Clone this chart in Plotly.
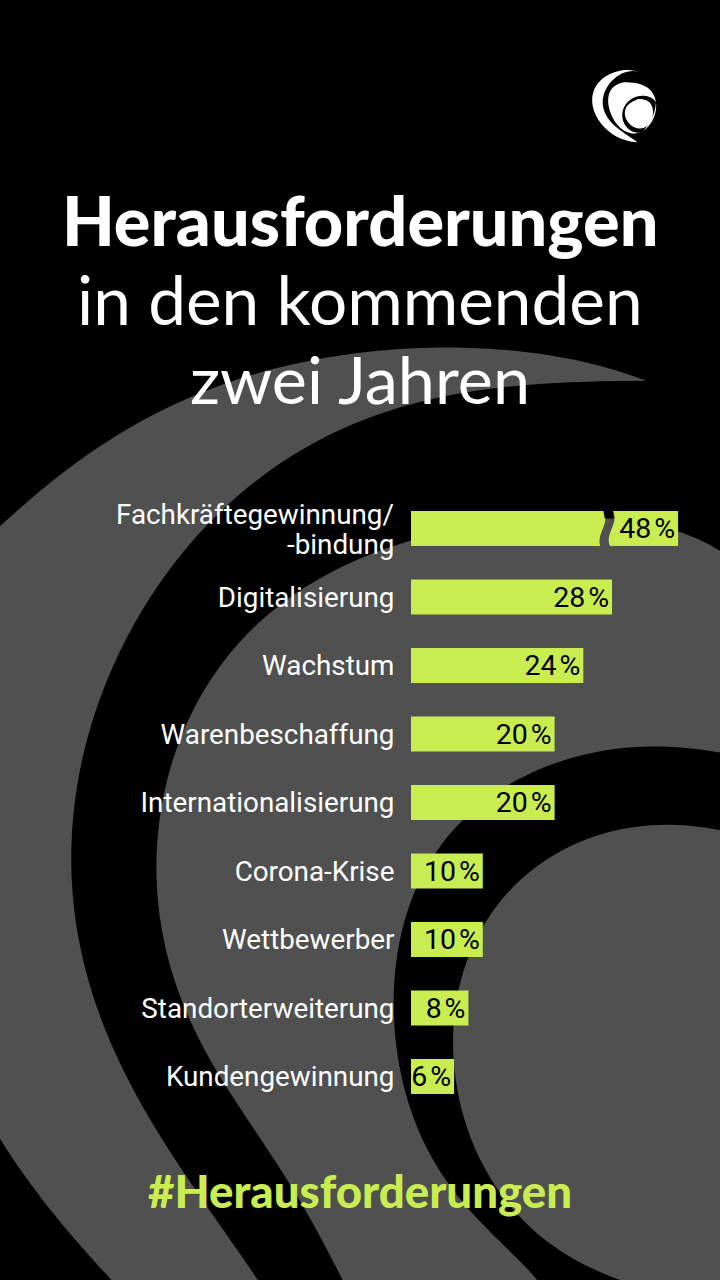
import numpy as np
import plotly.graph_objects as go

# ---- data -------------------------------------------------------------
categories = ["Fachkräftegewinnung/<br>-bindung", "Digitalisierung", "Wachstum", "Warenbeschaffung",
              "Internationalisierung", "Corona-Krise", "Wettbewerber", "Standorterweiterung", "Kundengewinnung"]
values = [48, 28, 24, 20, 20, 10, 10, 8, 6]
axis_break = 37.2  # the longest bar is cut by a break mark at this axis value
title_lines = ["Herausforderungen", "in den kommenden", "zwei Jahren"]
hashtag = "#Herausforderungen"

# ---- style ------------------------------------------------------------
W, H = 720, 1280
BLACK, GREY, LIME, WHITE = "#000000", "#505050", "#C9EC50", "#FFFFFF"
LABEL_FONT = "Roboto"
TITLE_FONT = "Lato"


def smooth(points, deg=6, n=90):
    """Least-squares smooth curve through hand-read outline points of the backdrop."""
    p = np.array(points, float)
    t = np.r_[0, np.cumsum(np.hypot(*np.diff(p, axis=0).T))]
    t = t / t[-1]
    d = min(deg, len(p) - 1)
    tt = np.linspace(0, 1, n)
    return list(zip(np.polyval(np.polyfit(t, p[:, 0], d), tt), np.polyval(np.polyfit(t, p[:, 1], d), tt)))


def to_path(points):
    return "M" + " L".join(f"{x / W:.5f},{1 - y / H:.5f}" for x, y in points) + " Z"


def poly(points, color, layer="below"):
    return dict(type="path", xref="paper", yref="paper", path=to_path(points), fillcolor=color,
                line=dict(width=0), layer=layer)


shapes = []
# outer grey crescent
outer_top = smooth([(-40, 565), (0, 525), (92, 453), (184, 400), (275, 367), (367, 353), (459, 348), (551, 355), (646, 381)], 5)
outer_inner = smooth([(646, 381), (551, 382), (459, 395), (367, 420), (275, 463), (177, 560), (110, 680), (70, 840),
                      (94, 1000), (170, 1150), (257, 1280), (290, 1330)], 7)
outer_low = smooth([(-30, 1085), (0, 1138), (46, 1205), (112, 1280), (160, 1330)], 3)
shapes.append(poly(outer_top + outer_inner + outer_low[::-1], GREY))
# middle grey disc
mid_edge = smooth([(380, 1340), (342, 1280), (250, 1120), (177, 1000), (160, 870), (175, 760), (220, 660), (300, 590),
                   (400, 545), (500, 522), (590, 517), (650, 522), (690, 535), (720, 552), (760, 580)], 8)
shapes.append(poly(mid_edge + [(760, 1340)], GREY))
# inner black crescent
in_out = smooth([(560, 1320), (537, 1280), (473, 1213), (436, 1167), (400, 1067), (395, 1033), (397, 960), (430, 860),
                 (500, 790), (600, 752), (680, 747), (760, 760)], 7)
in_in = smooth([(700, 1300), (620, 1280), (560, 1250), (505, 1200), (468, 1133), (455, 1033), (470, 950), (520, 880),
                (600, 835), (680, 825), (760, 840)], 7)
shapes.append(poly(in_out + in_in[::-1], BLACK))
# logo
shapes.append(poly(smooth([(638, 72), (613, 73), (598, 83), (592, 100), (598, 120), (613, 133), (625, 141), (637, 142)], 5, 40) +
                   smooth([(637, 142), (620, 130), (605, 113), (603, 97), (613, 80), (638, 72)], 4, 40), WHITE))
shapes.append(poly(smooth([(625, 82), (640, 84), (650, 90), (656, 102), (652, 120), (642, 132), (632, 134), (613, 117),
                           (608, 100), (613, 87), (625, 82)], 7, 60), WHITE))
shapes.append(poly(smooth([(656, 102), (640, 96), (627, 103), (622, 117), (630, 130), (642, 132)], 4, 40) +
                   smooth([(642, 132), (650, 122), (656, 102)], 2, 10), BLACK))
shapes.append(poly(smooth([(638, 99), (650, 103), (653, 110), (650, 122), (642, 129), (633, 126), (625, 116), (628, 105), (638, 99)], 6, 50), WHITE))
# break mark on the longest bar
gap_left = smooth([(603.3, 510), (605, 522), (600, 537), (601, 548)], 3, 24)
gap_right = smooth([(612.7, 510), (614, 522), (609, 537), (611, 548)], 3, 24)
shapes.append(poly(gap_left + gap_right[::-1], GREY, "above"))
shapes.append(poly([(603.3, 510), (604.8, 518.5), (613.8, 518.5), (612.7, 510)], BLACK, "above"))

fig = go.Figure(go.Bar(
    x=[min(v, axis_break) for v in values],
    y=categories,
    orientation="h",
    width=0.511,
    marker=dict(color=LIME, line=dict(width=0)),
    text=[f"{v}\u200a%" for v in values],
    textposition="inside",
    insidetextanchor="end",
    constraintext="none",
    textangle=0,
    textfont=dict(family=LABEL_FONT, size=28.5, color=BLACK),
    hoverinfo="skip",
))

annotations = []
for line, y, font_w, size in zip(title_lines, [219, 298, 378], [900, 400, 400], [68.4, 67.5, 66.5]):
    annotations.append(dict(text=line, xref="paper", yref="paper", x=360 / W, y=1 - y / H, xanchor="center",
                            yanchor="middle", showarrow=False,
                            font=dict(family=TITLE_FONT, size=size, color=WHITE, weight=font_w)))
annotations.append(dict(text=hashtag, xref="paper", yref="paper", x=360 / W, y=1 - 1190 / H, xanchor="center",
                        yanchor="middle", showarrow=False,
                        font=dict(family=TITLE_FONT, size=45.6, color=LIME, weight=900)))
# the two-line label keeps a tighter line pitch than a tick label allows
for part, y in zip(categories[0].split("<br>"), [514, 544]):
    annotations.append(dict(text=part, xref="paper", yref="paper", x=394 / W, y=1 - y / H, xanchor="right",
                            yanchor="middle", showarrow=False, xshift=2,
                            font=dict(family=LABEL_FONT, size=27.8, color=WHITE)))

fig.update_layout(
    width=W, height=H,
    margin=dict(l=0, r=0, t=0, b=0),
    paper_bgcolor=BLACK, plot_bgcolor="rgba(0,0,0,0)",
    showlegend=False,
    shapes=shapes,
    annotations=annotations,
    xaxis=dict(domain=[411 / W, 1], range=[0, 309 / 7.18], visible=False, fixedrange=True),
    yaxis=dict(domain=[1 - 1110.75 / H, 1 - 494.25 / H], range=[8.5, -0.5], type="category",
               categoryorder="array", categoryarray=categories,
               tickmode="array", tickvals=categories,
               ticktext=["" if "<br>" in c else c for c in categories],
               showgrid=False, zeroline=False, showline=False,
               ticks="outside", ticklen=10, tickcolor="rgba(0,0,0,0)",
               tickfont=dict(family=LABEL_FONT, size=27.8, color=WHITE), fixedrange=True),
)
fig.write_html("out.html", config=dict(displayModeBar=False),
               post_script="document.body.style.margin='0';document.body.style.background='#000';")
